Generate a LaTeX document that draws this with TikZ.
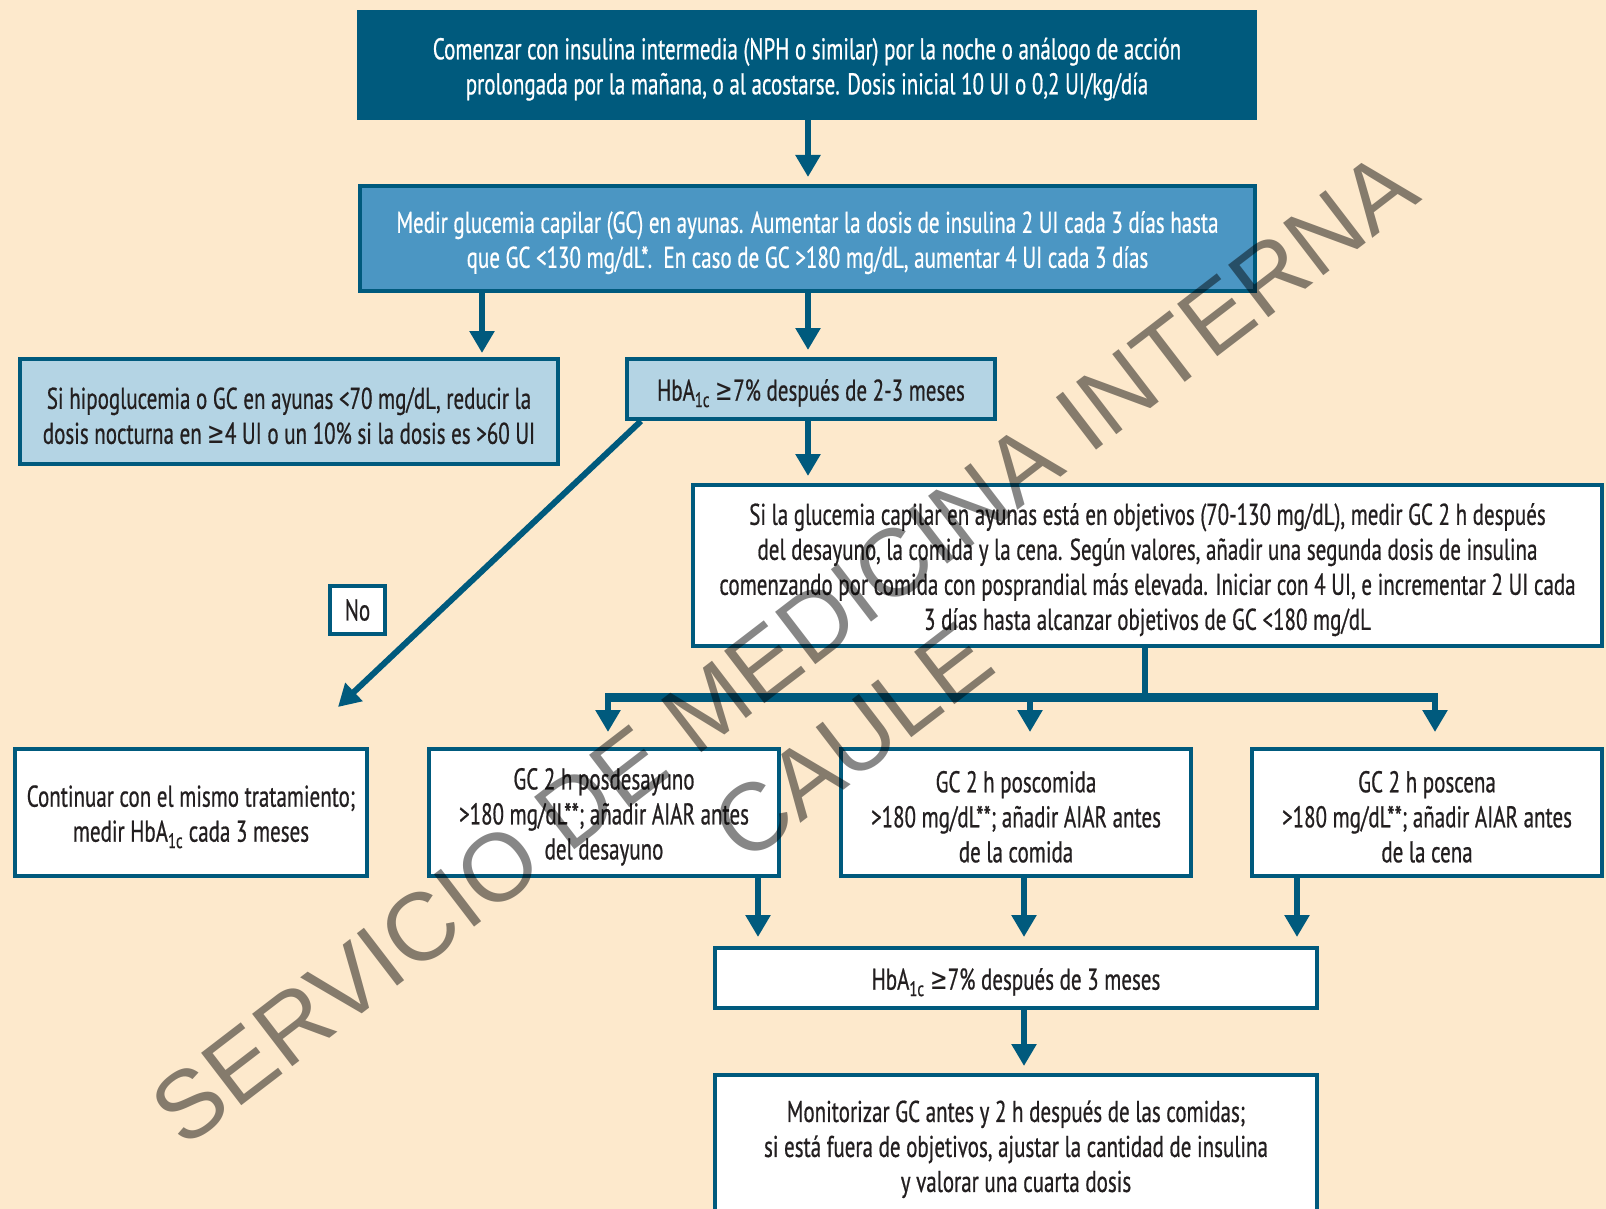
\documentclass[tikz,border=0pt]{standalone}
\usepackage{fontspec}
\setmainfont{PT Sans}[FakeStretch=0.70, FakeBold=0.6]
\newfontfamily\symfont{DejaVu Sans}[FakeStretch=0.70]
\newfontfamily\wmfont{Liberation Sans}
\usetikzlibrary{arrows.meta}
\definecolor{bg}{RGB}{253,233,204}
\definecolor{navy}{RGB}{0,90,125}
\definecolor{midblue}{RGB}{75,150,195}
\definecolor{paleblue}{RGB}{180,212,228}
\definecolor{ink}{RGB}{35,31,32}
\newcommand{\gsym}{{\symfont ≥}}
\newcommand{\hba}{HbA\textsubscript{1c}}
% invisible strut that lowers the first line of a box a little
\newcommand{\topstrut}{\rule{0pt}{30pt}}
\tikzset{
  box/.style={draw=navy, line width=4pt, align=center, inner sep=0pt,
    font=\fontsize{30}{35}\selectfont, text=ink},
  darkbox/.style={box, fill=navy, text=white},
  bluebox/.style={box, fill=midblue, text=white},
  palebox/.style={box, fill=paleblue},
  whitebox/.style={box, fill=white},
  arr/.style={draw=navy, line width=6pt,
    -{Triangle[width=24pt,length=22pt]}, shorten >=7pt},
  watermark/.style={rotate=37.5, text=black, text opacity=0.47, inner sep=0pt,
    font=\wmfont\fontsize{96}{96}\selectfont}
}
\begin{document}
\begin{tikzpicture}[x=1pt,y=-1pt]
\fill[bg] (0,0) rectangle (1606,1209);
\useasboundingbox (0,0) rectangle (1606,1209);
\clip (0,0) rectangle (1606,1209);

% boxes
\node[darkbox, minimum width=896pt, minimum height=106pt] (top) at (807,65)
  {\topstrut Comenzar con insulina intermedia (NPH o similar) por la noche o análogo de acción\\
   prolongada por la mañana, o al acostarse. Dosis inicial 10 UI o 0,2 UI/kg/día};
\node[bluebox, minimum width=895pt, minimum height=105pt] (dose) at (807.5,238.5)
  {\topstrut Medir glucemia capilar (GC) en ayunas. Aumentar la dosis de insulina 2 UI cada 3 días hasta\\
   que GC <130 mg/dL*.\ \ En caso de GC >180 mg/dL, aumentar 4 UI cada 3 días};
\node[palebox, minimum width=538pt, minimum height=105pt] (hypo) at (289,411.5)
  {\topstrut Si hipoglucemia o GC en ayunas <70 mg/dL, reducir la\\
   dosis nocturna en \gsym4 UI o un 10\% si la dosis es >60 UI};
\node[palebox, minimum width=368pt, minimum height=60pt] (hba1) at (811,389)
  {\topstrut\hba\ \gsym7\% después de 2-3 meses};
\node[whitebox, minimum width=909pt, minimum height=161pt] (fasting) at (1147.5,565.5)
  {\topstrut Si la glucemia capilar en ayunas está en objetivos (70-130 mg/dL), medir GC 2 h después\\
   del desayuno, la comida y la cena. Según valores, añadir una segunda dosis de insulina\\
   comenzando por comida con posprandial más elevada. Iniciar con 4 UI, e incrementar 2 UI cada\\
   3 días hasta alcanzar objetivos de GC <180 mg/dL};
\node[whitebox, minimum width=55pt, minimum height=48pt] (no) at (357.5,610) {No};
\node[whitebox, minimum width=352pt, minimum height=127pt] (cont) at (191,812.5)
  {\topstrut Continuar con el mismo tratamiento;\\ medir \hba\ cada 3 meses};
\node[whitebox, minimum width=350pt, minimum height=127pt] (desay) at (604,812.5)
  {\topstrut GC 2 h posdesayuno\\ >180 mg/dL**; añadir AIAR antes\\ del desayuno};
\node[whitebox, minimum width=350pt, minimum height=127pt] (comida) at (1016,812.5)
  {\topstrut GC 2 h poscomida\\ >180 mg/dL**; añadir AIAR antes\\ de la comida};
\node[whitebox, minimum width=350pt, minimum height=127pt] (cena) at (1427,812.5)
  {\topstrut GC 2 h poscena\\ >180 mg/dL**; añadir AIAR antes\\ de la cena};
\node[whitebox, minimum width=602pt, minimum height=60pt] (hba3) at (1016,978)
  {\topstrut\hba\ \gsym7\% después de 3 meses};
\node[whitebox, minimum width=602pt, minimum height=140pt] (monit) at (1016,1145)
  {\topstrut Monitorizar GC antes y 2 h después de las comidas;\\
   si está fuera de objetivos, ajustar la cantidad de insulina\\
   y valorar una cuarta dosis};

% column positions of the connectors
\coordinate (cMain) at (808,0);
\coordinate (cLeft) at (482,0);
\coordinate (cTrunk) at (1145,0);
\coordinate (cA) at (608,0);
\coordinate (cB) at (1030,0);
\coordinate (cC) at (1435,0);
\coordinate (dA) at (758,0);
\coordinate (dB) at (1024,0);
\coordinate (dC) at (1297,0);
\coordinate (bar) at (0,697);
\coordinate (noend) at (338,707);

% connectors
\draw[arr] (top.south -| cMain) -- (dose.north -| cMain);
\draw[arr, shorten >=4pt] (dose.south -| cLeft) -- (hypo.north -| cLeft);
\draw[arr] (dose.south -| cMain) -- (hba1.north -| cMain);
\draw[arr] (hba1.south -| cMain) -- (fasting.north -| cMain);
\draw[arr, shorten >=0pt] ([xshift=16pt]hba1.south west) -- (noend);
\draw[draw=navy, line width=6pt] (fasting.south -| cTrunk) -- (bar -| cTrunk);
\draw[draw=navy, line width=9pt] ([xshift=-3pt]bar -| cA) -- ([xshift=3pt]bar -| cC);
\draw[arr, shorten >=15pt] (bar -| cA) -- (desay.north -| cA);
\draw[arr, shorten >=15pt] (bar -| cB) -- (comida.north -| cB);
\draw[arr, shorten >=15pt] (bar -| cC) -- (cena.north -| cC);
\draw[arr, shorten >=9pt] (desay.south -| dA) -- (hba3.north -| dA);
\draw[arr, shorten >=9pt] (comida.south -| dB) -- (hba3.north -| dB);
\draw[arr, shorten >=9pt] (cena.south -| dC) -- (hba3.north -| dC);
\draw[arr] (hba3.south -| dB) -- (monit.north -| dB);

% watermark
\node[watermark] (wm1) at (784,648) {SERVICIO DE MEDICINA INTERNA};
\node[watermark] (wm2) at (852,742) {CAULE};
\end{tikzpicture}
\end{document}
